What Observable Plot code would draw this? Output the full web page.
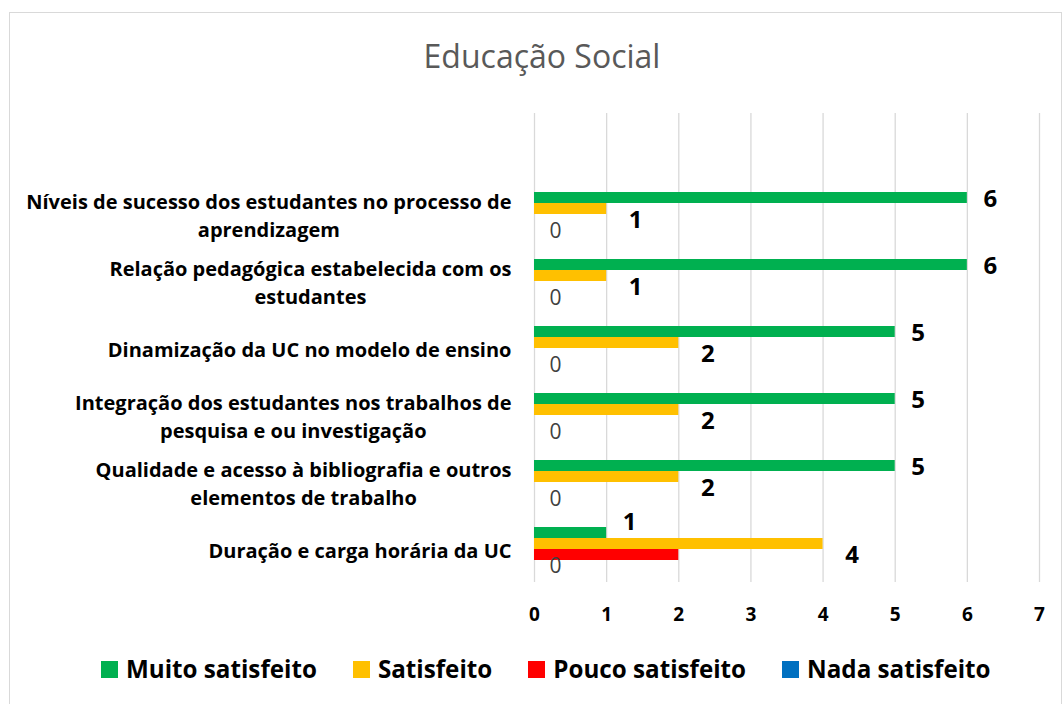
<!DOCTYPE html>
<html>
<head>
<meta charset="utf-8">
<script src="https://cdn.jsdelivr.net/npm/d3@7"></script>
<script src="https://cdn.jsdelivr.net/npm/@observablehq/plot@0.6"></script>
<style>
  html, body { margin: 0; padding: 0; background: #fff; }
  body { width: 1063px; height: 704px; position: relative; overflow: hidden; font-family: 'Open Sans', sans-serif; }
  #frame { position: absolute; left: 9px; top: 12px; width: 1053px; height: 700px; border: 1px solid #d9d9d9; box-sizing: border-box; }
  #title { position: absolute; left: 542px; top: 39.6px; transform: translateX(-50%); font-size: 32px; line-height: 32px; color: #595959; white-space: nowrap; }
  #chart { position: absolute; left: 0; top: 100px; }
  #legend { position: absolute; left: 101px; top: 657.4px; font-size: 24.2px; line-height: 24.2px; font-weight: bold; color: #000; white-space: nowrap; }
  #legend .item { display: inline-block; margin-right: 36px; }
  #legend .sw { display: inline-block; width: 17px; height: 17px; margin-right: 8px; vertical-align: baseline; }
</style>
</head>
<body>
<div id="frame"></div>
<div id="title"></div>
<div id="chart"></div>
<div id="legend"></div>
<script>
// ---- data ----
const categories = [
  "Níveis de sucesso dos estudantes no processo de aprendizagem",
  "Relação pedagógica estabelecida com os estudantes",
  "Dinamização da UC no modelo de ensino",
  "Integração dos estudantes nos trabalhos de pesquisa e ou investigação",
  "Qualidade e acesso à bibliografia e outros elementos de trabalho",
  "Duração e carga horária da UC"
];
const categoryLabels = [
  "Níveis de sucesso dos estudantes no processo de\naprendizagem",
  "Relação pedagógica estabelecida com os\nestudantes",
  "Dinamização da UC no modelo de ensino",
  "Integração dos estudantes nos trabalhos de\npesquisa e ou investigação",
  "Qualidade e acesso à bibliografia e outros\nelementos de trabalho",
  "Duração e carga horária da UC"
];
const series = ["Muito satisfeito", "Satisfeito", "Pouco satisfeito", "Nada satisfeito"];
const muitoSatisfeito = [6, 6, 5, 5, 5, 1];
const satisfeito      = [1, 1, 2, 2, 2, 4];
const poucoSatisfeito = [0, 0, 0, 0, 0, 2];
const nadaSatisfeito  = [0, 0, 0, 0, 0, 0];
const xTicks = [0, 1, 2, 3, 4, 5, 6, 7];
const colors = ["#00b050", "#ffc000", "#ff0000", "#0070c0"];
const title = "Educação Social";

// ---- build table ----
const valuesBySeries = [muitoSatisfeito, satisfeito, poucoSatisfeito, nadaSatisfeito];
const table = [];
categories.forEach((c, i) => {
  series.forEach((s, j) => table.push({category: c, series: s, value: valuesBySeries[j][i], index: i}));
});
const fyDomain = ["", ...categories];  // empty row above the first category
const labelOf = new Map(categories.map((c, i) => [c, categoryLabels[i]]));
const gridData = fyDomain.flatMap(c => xTicks.map(x => ({category: c, x})));
const catData = categories.map(c => ({category: c}));

const font = "'Open Sans', sans-serif";
const muitoRows = table.filter(d => d.series === series[0]);
const satRows = table.filter(d => d.series === series[1]);
const nadaRows = table.filter(d => d.series === series[3]);
// lift the label of a bar when the bar below it is longer (avoids overlap)
const muitoDy = muitoRows.map(d => satisfeito[d.index] > d.value ? -11 : 1);

const chart = Plot.plot({
  width: 1063,
  height: 533,
  marginLeft: 534,
  marginRight: 24,
  marginTop: 11,
  marginBottom: 50,
  style: {fontFamily: font, background: "transparent", overflow: "visible"},
  x: {domain: [0, 7], axis: null},
  y: {domain: series, paddingInner: 0, paddingOuter: 0.93, axis: null},
  fy: {domain: fyDomain, padding: 0, axis: null},
  color: {domain: series, range: colors},
  marks: [
    Plot.ruleX(gridData, {x: "x", fy: "category", stroke: "#d9d9d9", strokeWidth: 1.3}),
    Plot.barX(table, {x: "value", y: "series", fy: "category", fill: "series"}),
    ...muitoRows.map((d, k) => Plot.text([d], {
      x: "value", y: "series", fy: "category", text: r => String(r.value),
      dx: 23, dy: muitoDy[k], fontSize: 24, fontWeight: "bold", fill: "#000", textAnchor: "middle"
    })),
    Plot.text(satRows, {
      x: "value", y: "series", fy: "category", text: d => String(d.value),
      dx: 29, dy: 11, fontSize: 24, fontWeight: "bold", fill: "#000", textAnchor: "middle"
    }),
    Plot.text(nadaRows, {
      x: "value", y: "series", fy: "category", text: d => String(d.value),
      dx: 21, fontSize: 21, fill: "#404040", textAnchor: "middle"
    }),
    Plot.text(catData, {
      fy: "category", frameAnchor: "left", text: d => labelOf.get(d.category),
      dx: -23, textAnchor: "end", lineHeight: 1.375, fontSize: 20, fontWeight: "bold",
      fill: "#000", ariaLabel: "category-labels"
    }),
    Plot.axisX({
      ticks: xTicks, tickSize: 0, tickPadding: 25, fontSize: 19, fontWeight: "bold",
      fill: "#000", label: null, tickFormat: d => String(d)
    })
  ]
});
document.getElementById("chart").appendChild(chart);

// center the lines of each multi-line category label, keeping the block right-aligned
chart.querySelectorAll("text").forEach(t => {
  const spans = t.querySelectorAll("tspan");
  if (spans.length < 2) return;
  let w = 0;
  spans.forEach(s => { w = Math.max(w, s.getComputedTextLength()); });
  t.setAttribute("text-anchor", "middle");
  t.style.textAnchor = "middle";
  spans.forEach(s => { s.setAttribute("x", String(-w / 2)); s.style.textAnchor = "middle"; });
});

// legend
const legend = document.getElementById("legend");
series.forEach((s, i) => {
  const item = document.createElement("span");
  item.className = "item";
  const sw = document.createElement("span");
  sw.className = "sw";
  sw.style.background = colors[i];
  item.appendChild(sw);
  item.appendChild(document.createTextNode(s));
  legend.appendChild(item);
});
document.getElementById("title").textContent = title;
</script>
</body>
</html>
